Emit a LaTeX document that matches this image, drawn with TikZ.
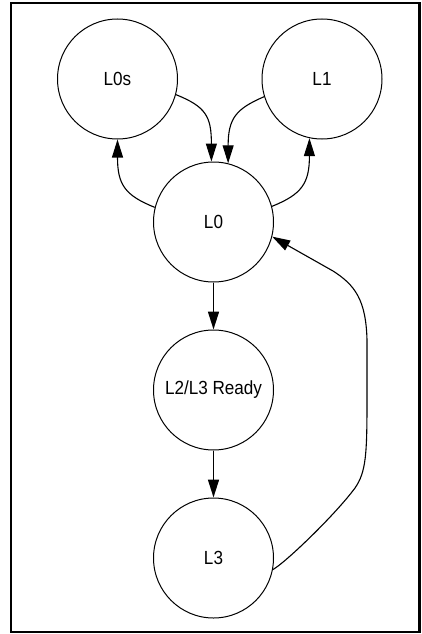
\documentclass[tikz,border=0pt]{standalone}
\usepackage{fontspec}
\setmainfont[FakeStretch=0.9]{Liberation Sans}
\usetikzlibrary{arrows.meta}
\begin{document}
\begin{tikzpicture}[x=1pt,y=-1pt,
  state/.style={circle,draw=black,line width=1pt,minimum size=120pt,inner sep=0pt,font=\fontsize{19}{21}\selectfont},
  edge/.style={draw=black,line width=1.1pt,-{Triangle[length=18pt,width=11pt]}},
  straightedge/.style={edge,line width=1.6pt}]
\useasboundingbox (0,0) rectangle (421,634);
\draw[line width=2.2pt] (11,3) rectangle (419.5,632);
\node[state] (L0s) at (117.5,79) {L0s};
\node[state] (L1) at (322,79) {L1};
\node[state] (L0) at (213.5,222) {L0};
\node[state] (L23) at (213.5,390) {L2/L3 Ready};
\node[state] (L3) at (213.5,558) {L3};
\draw[edge] (L0s.-15) .. controls +(30,12) and +(0,-45) .. (L0.92);
\draw[edge] (L1.-163) .. controls +(-28,12) and +(0,-45) .. (L0.76);
\draw[edge] (L0.166) .. controls +(-30,-12) and +(0,45) .. (L0s.-90);
\draw[edge] (L0.15) .. controls +(30,-12) and +(0,45) .. (L1.-102);
\draw[straightedge] (L0) -- (L23);
\draw[straightedge] (L23) -- (L3);
\draw[edge] (L3.-11) .. controls (285,563) and (335,515) .. (355,488)
  .. controls (366,472) and (367,455) .. (367,400) -- (367,340)
  .. controls (366,300) and (355,285) .. (333,271) -- (L0.-14);
\end{tikzpicture}
\end{document}
